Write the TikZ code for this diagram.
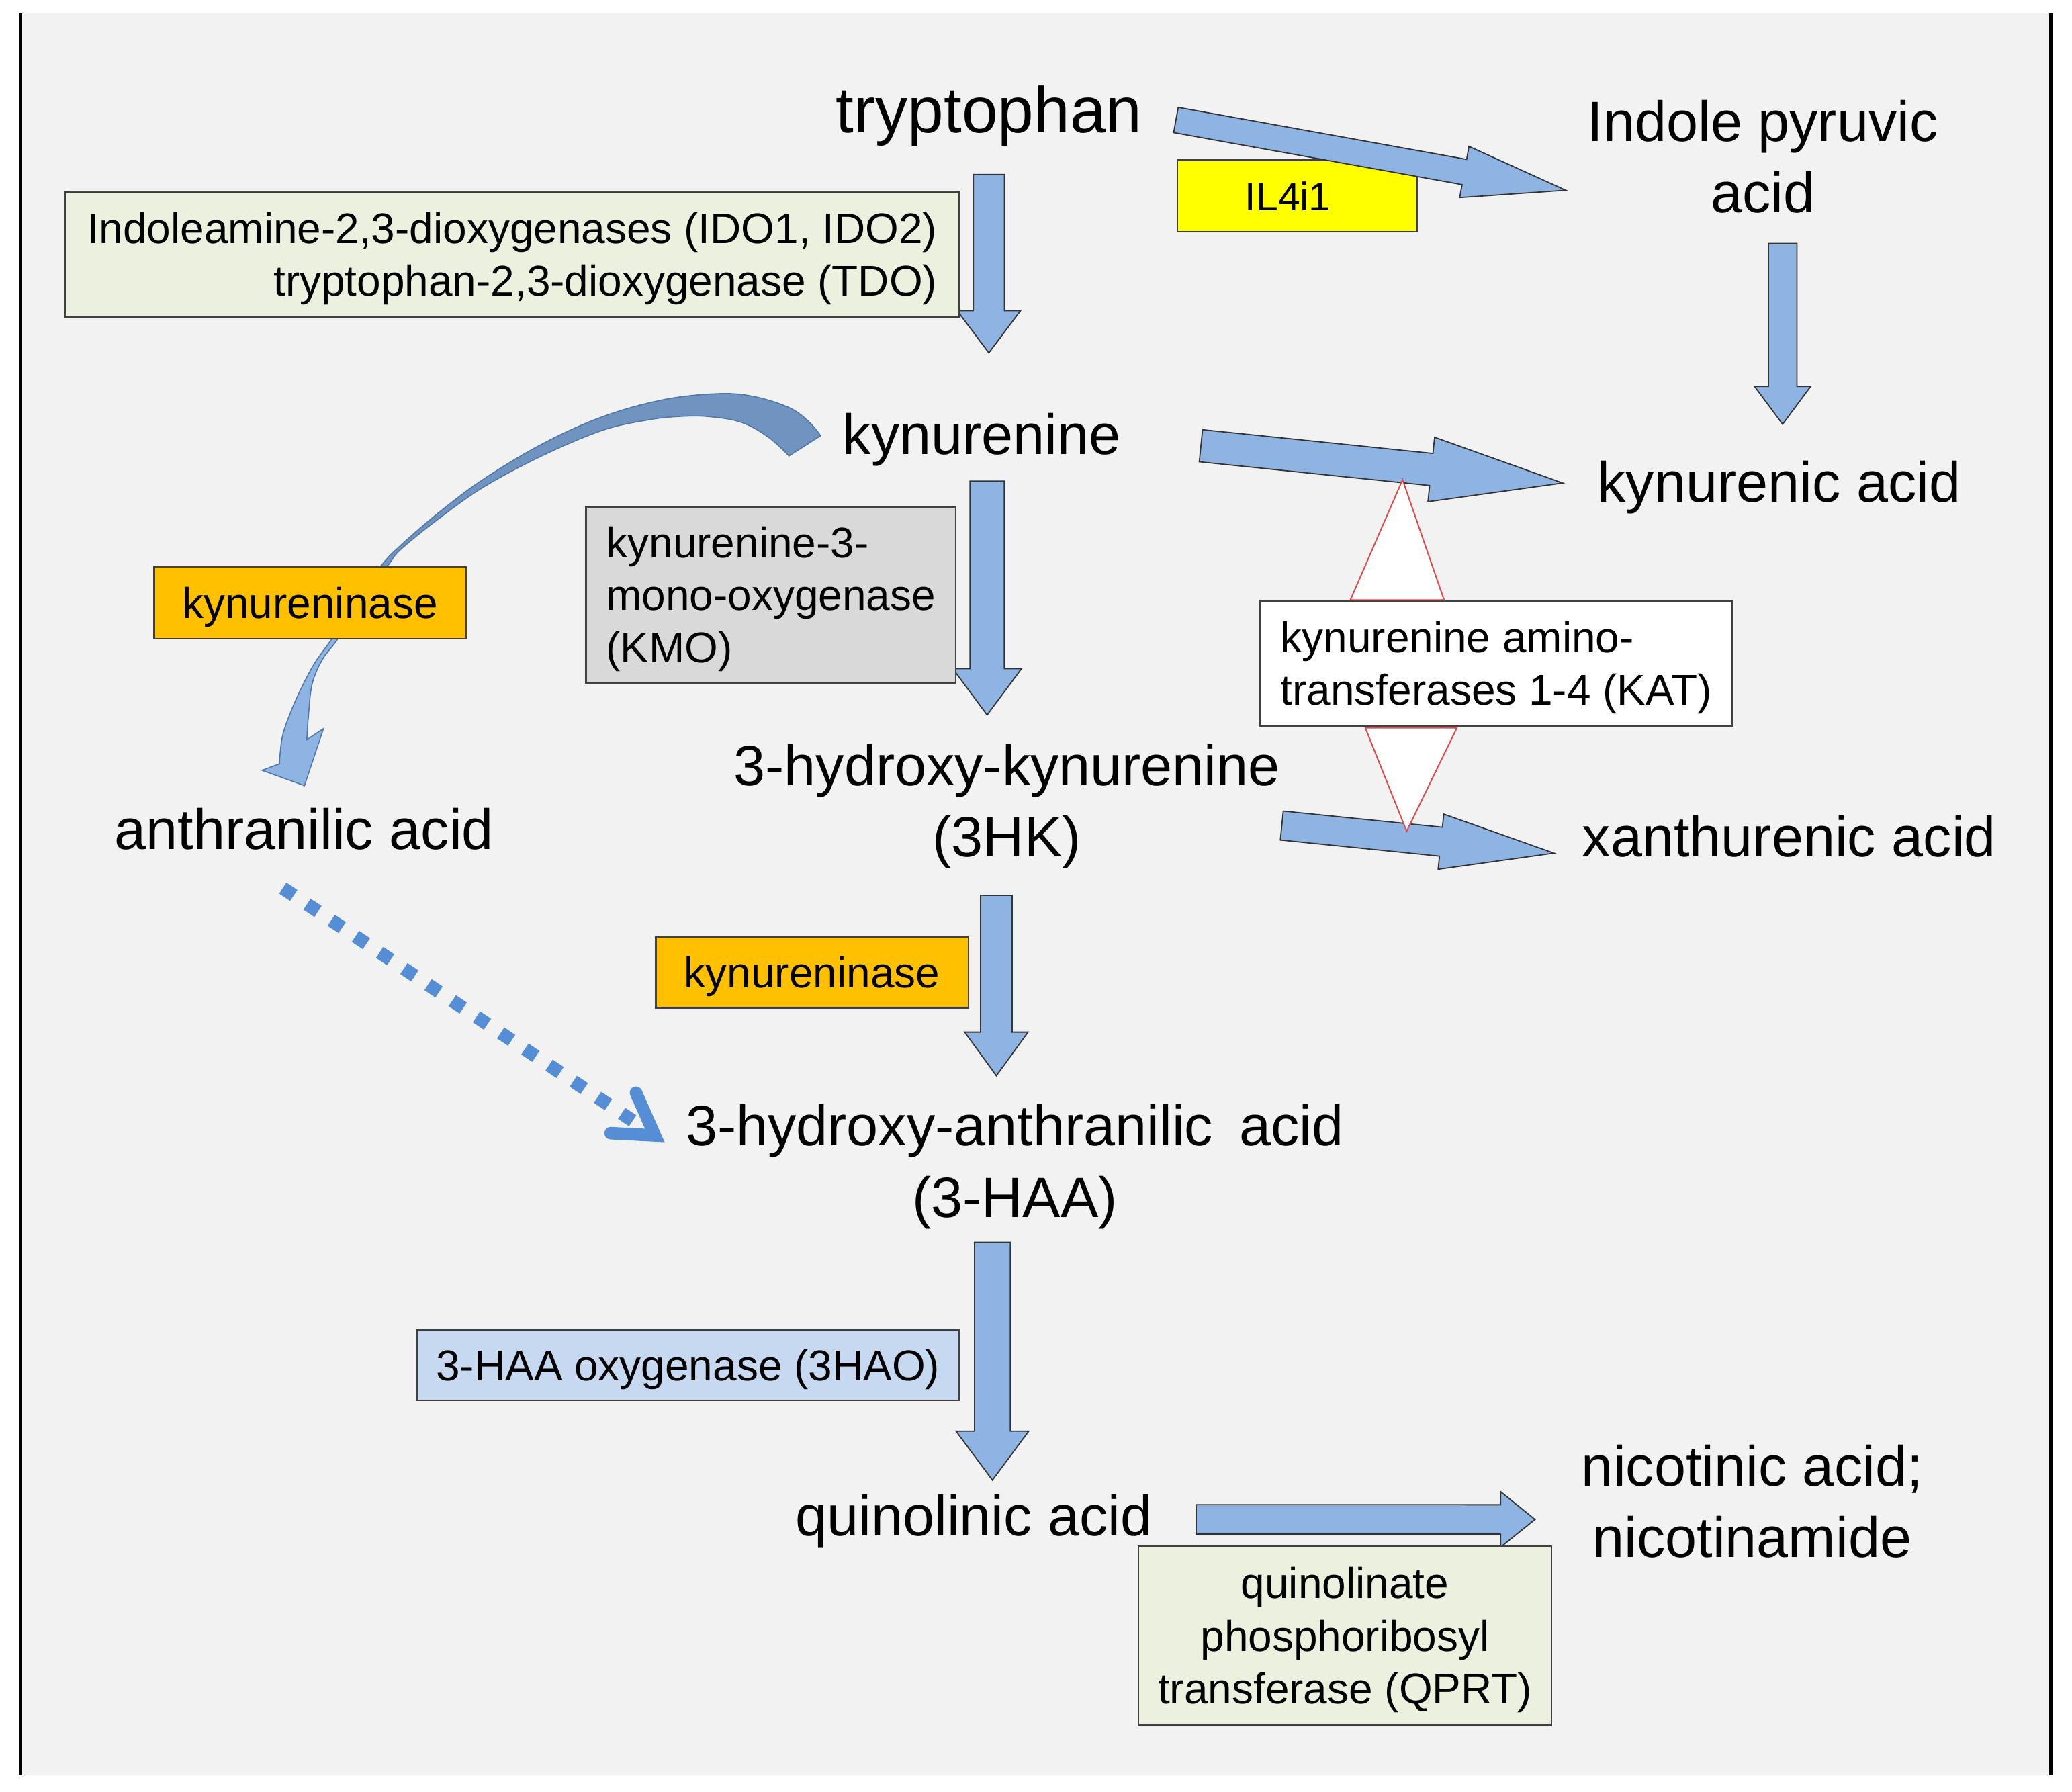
\documentclass[tikz,border=0pt]{standalone}
\usepackage{fontspec}
\setmainfont{Liberation Sans}
\usetikzlibrary{calc}
\definecolor{bggray}{HTML}{F2F2F2}
\definecolor{arrblue}{HTML}{8EB4E3}
\definecolor{arrback}{HTML}{7093C0}
\definecolor{arrline}{HTML}{4F77AA}
\definecolor{dotblue}{HTML}{558ED5}
\definecolor{idogreen}{HTML}{EBF1DE}
\definecolor{kmogray}{HTML}{D9D9D9}
\definecolor{kynorange}{HTML}{FFC000}
\definecolor{ilyellow}{HTML}{FFFF00}
\definecolor{haoblue}{HTML}{C6D9F1}
\definecolor{katred}{HTML}{E04A4A}

% block arrow: start, end, shaft half width, head half width, head length
\newcommand{\barrow}[5]{%
  \coordinate (#1h) at ($(#2)!#5!(#1)$);
  \filldraw[blockarr] ($(#1)!#3!90:(#2)$) -- ($(#1h)!#3!-90:(#1)$) -- ($(#1h)!#4!-90:(#1)$) -- (#2)
     -- ($(#1h)!#4!90:(#1)$) -- ($(#1h)!#3!90:(#1)$) -- ($(#1)!#3!-90:(#2)$) -- cycle;
}
\newcommand{\twoline}[2]{\begin{tabular}[t]{@{}c@{}}#1\\#2\end{tabular}}
\newcommand{\topstrut}{\rule{0pt}{30pt}}

\begin{document}
\begin{tikzpicture}[x=1pt,y=-1pt,
  blockarr/.style={fill=arrblue,draw=black!80,line width=0.9pt,line join=miter},
  lbl/.style={font=\fontsize{43}{54}\selectfont,anchor=base,inner sep=0pt},
  enz/.style={draw=black!75,line width=1.2pt,inner sep=0pt,font=\fontsize{32.5}{39.5}\selectfont},
  katwedge/.style={fill=white,draw=katred,line width=1pt,line join=miter},
  curvarr/.style={draw=arrline,line width=0.8pt}]

\useasboundingbox (0,0) rectangle (1568,1355.6);
\fill[white] (0,0) rectangle (1568,1355.6);
\fill[bggray] (15.6,10) rectangle (1552,1343.4);
\draw[line width=2.5pt] (15.6,10) -- (15.6,1343.4);
\draw[line width=2.5pt] (1552,10) -- (1552,1343.4);

% IL4i1 box (below its arrow)
\node[enz,fill=ilyellow,font=\fontsize{30}{36}\selectfont,minimum width=181.3pt,minimum height=54.2pt,
      text width=78.7pt,align=left] (il4i1) at (981.55,148.3) {IL4i1};

% endpoints of block arrows
\coordinate (trpS) at (748.3,132);   \coordinate (trpE) at (748.3,267);
\coordinate (kynS) at (747,364);     \coordinate (kynE) at (747,541);
\coordinate (hkS)  at (754,677.5);   \coordinate (hkE)  at (754,814);
\coordinate (haaS) at (751,940);     \coordinate (haaE) at (751,1120);
\coordinate (ipaS) at (1349,184.3);  \coordinate (ipaE) at (1349,321);
\coordinate (tipS) at (889.9,90.8);  \coordinate (tipE) at (1184.9,144);
\coordinate (kkaS) at (908.8,337.3); \coordinate (kkaE) at (1182.6,365.5);
\coordinate (xaS)  at (970,624.7);   \coordinate (xaE)  at (1176,645.6);
\coordinate (naS)  at (905.2,1149.7);\coordinate (naE)  at (1161.6,1149.8);

\barrow{trpS}{trpE}{11.75pt}{24pt}{32pt}
\barrow{kynS}{kynE}{13pt}{26pt}{35pt}
\barrow{hkS}{hkE}{12pt}{24pt}{33pt}
\barrow{haaS}{haaE}{13.5pt}{27.5pt}{37pt}
\barrow{ipaS}{ipaE}{10.8pt}{21.2pt}{28.6pt}
\barrow{tipS}{tipE}{9.7pt}{19.7pt}{78pt}
\barrow{kkaS}{kkaE}{12.2pt}{24.5pt}{100pt}
\barrow{xaS}{xaE}{11pt}{21pt}{86pt}
\barrow{naS}{naE}{11.1pt}{21pt}{26pt}

% curved arrow kynurenine -> anthranilic acid
\filldraw[curvarr,fill=arrback]
  plot[smooth,tension=0.6] coordinates {(621,329.7) (612,319) (597.1,308.4) (569.9,299.9) (542.6,297.9)
     (501.7,302.5) (456.3,315.2) (410.8,335.7) (365.4,362.9) (331.3,388.5) (301.8,414) (288.1,428.5) (272,452)}
  -- plot[smooth,tension=0.6] coordinates {(272,452) (293,428.5) (303,416) (332,392.5) (366,368.5) (411,344.5)
     (456.3,325.5) (490.3,317.8) (513,315.2) (535.8,315.2) (560.8,319.5) (581.2,330.6) (597.1,345)}
  -- cycle;
\filldraw[curvarr,fill=arrblue]
  plot[smooth,tension=0.6] coordinates {(272,452) (261,468) (250.8,484) (238,502) (227.5,521.8) (219.5,540)
     (214,556) (212,570) (211.5,578)}
  -- (198.3,582.9) -- (230.4,594.5) -- (244.8,551.3) -- (232.2,559.7)
  -- plot[smooth,tension=0.6] coordinates {(232.2,559.7) (233.3,543) (236.2,517.6) (244,499) (255.2,484)
     (264,467) (272,452)}
  -- cycle;

% enzyme boxes
\node[enz,fill=idogreen,minimum width=676.7pt,minimum height=94.9pt,align=right] (ido) at (387.65,192.55)
  {\topstrut Indoleamine-2,3-dioxygenases (IDO1, IDO2)\\tryptophan-2,3-dioxygenase (TDO)};
\node[enz,fill=kmogray,minimum width=280pt,minimum height=133.6pt,align=left] (kmo) at (583.4,450.2)
  {\topstrut kynurenine-3-\\mono-oxygenase\\(KMO)};
\node[enz,fill=kynorange,minimum width=235.9pt,minimum height=54.2pt] (kyn1) at (234.65,456.1) {\topstrut kynureninase};
\node[enz,fill=white,minimum width=357.6pt,minimum height=94.5pt,align=left] (kat) at (1132.3,501.95)
  {\topstrut kynurenine amino-\\transferases 1-4 (KAT)};
\node[enz,fill=kynorange,minimum width=236.5pt,minimum height=53.7pt] (kyn2) at (614.55,735.85) {\topstrut kynureninase};
\node[enz,fill=haoblue,minimum width=410.6pt,minimum height=53.4pt] (hao) at (520.6,1032.9) {\topstrut 3-HAA oxygenase (3HAO)};
\node[enz,fill=idogreen,font=\fontsize{32.5}{40}\selectfont,minimum width=312.4pt,minimum height=135.5pt,align=center]
  (qprt) at (1017.8,1237.75) {\topstrut quinolinate\\phosphoribosyl\\transferase (QPRT)};

% KAT wedges
\coordinate (katA1) at (1061.4,363);   \coordinate (katL1) at (1021.9,454); \coordinate (katR1) at (1092.8,454);
\coordinate (katA2) at (1064.5,629);   \coordinate (katL2) at (1033.2,550.8); \coordinate (katR2) at (1102.5,550.8);
\filldraw[katwedge] (katA1) -- (katL1) -- (katR1) -- cycle;
\filldraw[katwedge] (katA2) -- (katL2) -- (katR2) -- cycle;

% metabolite labels
\node[lbl,font=\fontsize{49}{58}\selectfont] (trp) at (748.5,100.5) {tryptophan};
\node[lbl] (ipa) at (1334,107) {\twoline{Indole pyruvic}{acid}};
\node[lbl] (kyn) at (743,344) {kynurenine};
\node[lbl] (ka) at (1346.4,380) {kynurenic acid};
\node[lbl] (hk) at (762,594.4) {\twoline{3-hydroxy-kynurenine}{(3HK)}};
\node[lbl] (aa) at (230.2,642.5) {anthranilic acid};
\node[lbl] (xa) at (1354,648.5) {xanthurenic acid};
\node[lbl] (haa) at (768,867) {\twoline{3-hydroxy-anthranilic\kern8pt\ acid}{(3-HAA)}};
\node[lbl] (qa) at (737,1162) {quinolinic acid};
\node[lbl] (na) at (1326,1124.3) {\twoline{nicotinic acid;}{nicotinamide}};

% dotted arrow anthranilic acid -> 3-HAA
\coordinate (daS) at (214,672);
\coordinate (daV) at (495.5,859.2);
\coordinate (daB1) at (481.3,826.9);
\coordinate (daB2) at (462.1,857.5);
\draw[dotblue,line width=10pt,dash pattern=on 10pt off 12pt] (daS) -- ($(daS)!320pt!(daV)$);
\draw[dotblue,line width=9.5pt,line cap=round,line join=miter] (daB1) -- (daV) -- (daB2);
\end{tikzpicture}
\end{document}
